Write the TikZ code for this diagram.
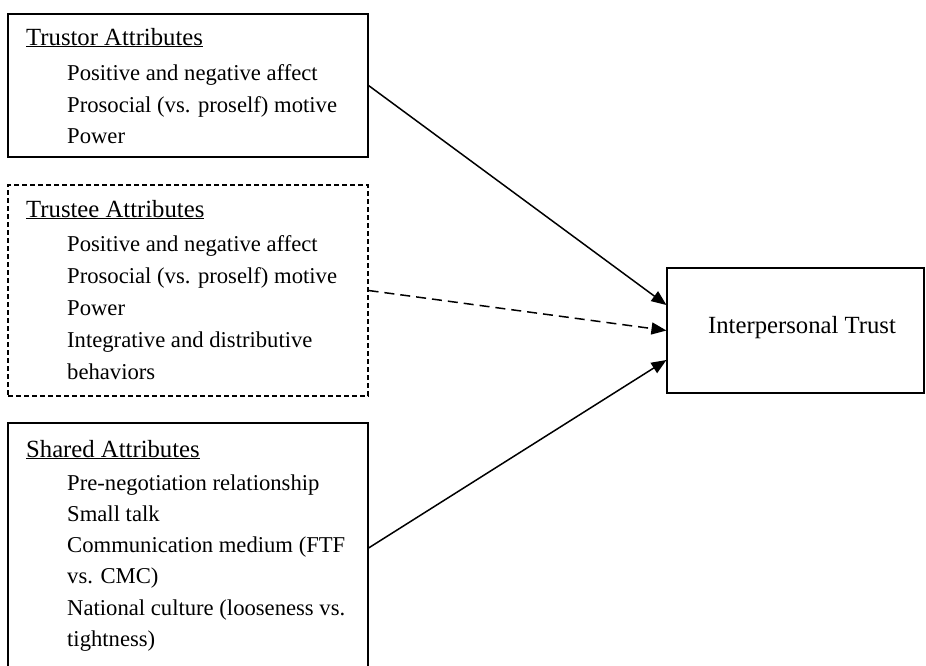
\documentclass[tikz,border=0pt]{standalone}
\usepackage{fontspec}
\setmainfont{Liberation Serif}
\usetikzlibrary{arrows.meta,calc}
\begin{document}
\begin{tikzpicture}[x=1pt,y=-1pt,
  boxsolid/.style={draw, line width=1.1pt, rectangle, inner sep=0pt, minimum width=360pt},
  boxdash/.style={boxsolid, dash pattern=on 5pt off 3pt},
  headtxt/.style={anchor=base west, inner sep=0pt, font=\fontsize{24.7}{30}\selectfont},
  itemtxt/.style={anchor=base west, inner sep=0pt, font=\fontsize{22.65}{30}\selectfont},
  conn/.style={line width=1.5pt, -{Triangle[length=15pt,width=12pt]}},
  connd/.style={conn, dash pattern=on 10pt off 6pt}
]
\useasboundingbox (0,0) rectangle (926,665);
\clip (0,0) rectangle (926,665);

% Trustor
\node[boxsolid, minimum height=143pt] (trustor) at (188,85.5) {};
\node[headtxt] (tr0) at (26,45) {\underline{Trustor Attributes}};
\node[itemtxt] (tr1) at (67,80) {Positive and negative affect};
\node[itemtxt] (tr2) at (67,112) {Prosocial (vs. proself) motive};
\node[itemtxt] (tr3) at (67,143) {Power};

% Trustee
\node[boxdash, minimum height=211pt] (trustee) at (188,290.5) {};
\node[headtxt] (te0) at (26,217) {\underline{Trustee Attributes}};
\node[itemtxt] (te1) at (67,251) {Positive and negative affect};
\node[itemtxt] (te2) at (67,283) {Prosocial (vs. proself) motive};
\node[itemtxt] (te3) at (67,315) {Power};
\node[itemtxt] (te4) at (67,347) {Integrative and distributive};
\node[itemtxt] (te5) at (67,379) {behaviors};

% Shared
\node[boxsolid, minimum height=250pt] (shared) at (188,548) {};
\node[headtxt] (sh0) at (26,457) {\underline{Shared Attributes}};
\node[itemtxt] (sh1) at (67,490) {Pre-negotiation relationship};
\node[itemtxt] (sh2) at (67,521) {Small talk};
\node[itemtxt] (sh3) at (67,552) {Communication medium (FTF};
\node[itemtxt] (sh4) at (67,583) {vs. CMC)};
\node[itemtxt] (sh5) at (67,615) {National culture (looseness vs.};
\node[itemtxt] (sh6) at (67,646) {tightness)};

% Outcome
\node[draw, line width=1.1pt, rectangle, inner sep=0pt, minimum width=257pt, minimum height=125pt] (trust) at (795.5,330.5) {};
\node[headtxt, anchor=base] (trusttxt) at (802,333) {Interpersonal Trust};

\coordinate (t1) at ($(trust.west)+(0,-25.5)$);
\coordinate (t2) at (trust.west);
\coordinate (t3) at ($(trust.west)+(0,29.5)$);

\draw[conn] (trustor.east) -- (t1);
\draw[connd] (trustee.east) -- (t2);
\draw[conn] (shared.east) -- (t3);
\end{tikzpicture}
\end{document}
